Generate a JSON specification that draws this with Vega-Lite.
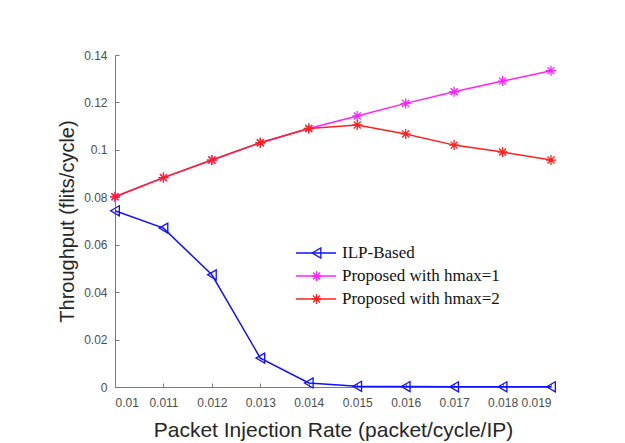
{
  "$schema": "https://vega.github.io/schema/vega-lite/v6.json",
  "autosize": {"type": "none"},
  "width": 436,
  "height": 332,
  "padding": {"left": 115, "top": 55, "right": 74, "bottom": 56},
  "background": "white",
  "config": {"view": {"stroke": null}},
  "data": {"values": [
    {"x": 0.010, "y": 0.0743, "series": "ILP-Based", "marker": "m1"},
    {"x": 0.011, "y": 0.0670, "series": "ILP-Based", "marker": "m1"},
    {"x": 0.012, "y": 0.0473, "series": "ILP-Based", "marker": "m1"},
    {"x": 0.013, "y": 0.0122, "series": "ILP-Based", "marker": "m1"},
    {"x": 0.014, "y": 0.0017, "series": "ILP-Based", "marker": "m1"},
    {"x": 0.015, "y": 0.0003, "series": "ILP-Based", "marker": "m1"},
    {"x": 0.016, "y": 0.0002, "series": "ILP-Based", "marker": "m1"},
    {"x": 0.017, "y": 0.0001, "series": "ILP-Based", "marker": "m1"},
    {"x": 0.018, "y": 0.0001, "series": "ILP-Based", "marker": "m1"},
    {"x": 0.019, "y": 0.0001, "series": "ILP-Based", "marker": "m1"},
    {"x": 0.010, "y": 0.0802, "series": "Proposed with hmax=1", "marker": "m2"},
    {"x": 0.011, "y": 0.0883, "series": "Proposed with hmax=1", "marker": "m2"},
    {"x": 0.012, "y": 0.0957, "series": "Proposed with hmax=1", "marker": "m2"},
    {"x": 0.013, "y": 0.1030, "series": "Proposed with hmax=1", "marker": "m2"},
    {"x": 0.014, "y": 0.1090, "series": "Proposed with hmax=1", "marker": "m2"},
    {"x": 0.015, "y": 0.1143, "series": "Proposed with hmax=1", "marker": "m2"},
    {"x": 0.016, "y": 0.1196, "series": "Proposed with hmax=1", "marker": "m2"},
    {"x": 0.017, "y": 0.1245, "series": "Proposed with hmax=1", "marker": "m2"},
    {"x": 0.018, "y": 0.1290, "series": "Proposed with hmax=1", "marker": "m2"},
    {"x": 0.019, "y": 0.1334, "series": "Proposed with hmax=1", "marker": "m2"},
    {"x": 0.010, "y": 0.0802, "series": "Proposed with hmax=2", "marker": "m3"},
    {"x": 0.011, "y": 0.0883, "series": "Proposed with hmax=2", "marker": "m3"},
    {"x": 0.012, "y": 0.0957, "series": "Proposed with hmax=2", "marker": "m3"},
    {"x": 0.013, "y": 0.1030, "series": "Proposed with hmax=2", "marker": "m3"},
    {"x": 0.014, "y": 0.1090, "series": "Proposed with hmax=2", "marker": "m3"},
    {"x": 0.015, "y": 0.1105, "series": "Proposed with hmax=2", "marker": "m3"},
    {"x": 0.016, "y": 0.1067, "series": "Proposed with hmax=2", "marker": "m3"},
    {"x": 0.017, "y": 0.1020, "series": "Proposed with hmax=2", "marker": "m3"},
    {"x": 0.018, "y": 0.0991, "series": "Proposed with hmax=2", "marker": "m3"},
    {"x": 0.019, "y": 0.0957, "series": "Proposed with hmax=2", "marker": "m3"}
  ]},
  "encoding": {
    "x": {
      "field": "x", "type": "quantitative",
      "scale": {"domain": [0.01, 0.019], "nice": false, "zero": false},
      "axis": {
        "title": "Packet Injection Rate (packet/cycle/IP)",
        "values": [0.01, 0.011, 0.012, 0.013, 0.014, 0.015, 0.016, 0.017, 0.018, 0.019],
        "format": "~f",
        "grid": false,
        "domainColor": "#7a7a7a", "tickColor": "#7a7a7a", "tickSize": -4,
        "labelFont": "Liberation Sans", "labelFontSize": 12, "labelColor": "#4d4d4d",
        "labelPadding": 14,
        "titleFont": "Liberation Sans", "titleFontSize": 21, "titleFontWeight": "normal",
        "titleColor": "#262626", "titlePadding": 11
      }
    },
    "y": {
      "field": "y", "type": "quantitative",
      "scale": {"domain": [0, 0.14], "nice": false},
      "axis": {
        "title": "Throughput (flits/cycle)",
        "values": [0, 0.02, 0.04, 0.06, 0.08, 0.1, 0.12, 0.14],
        "format": "~f",
        "grid": false,
        "domainColor": "#7a7a7a", "tickColor": "#7a7a7a", "tickSize": -4,
        "labelFont": "Liberation Sans", "labelFontSize": 12, "labelColor": "#4d4d4d",
        "labelPadding": 12,
        "titleFont": "Liberation Sans", "titleFontSize": 20, "titleFontWeight": "normal",
        "titleColor": "#262626", "titlePadding": 6
      }
    }
  },
  "layer": [
    {
      "mark": {"type": "line", "strokeWidth": 1.5},
      "encoding": {
        "color": {
          "field": "series", "type": "nominal",
          "scale": {"domain": ["ILP-Based", "Proposed with hmax=1", "Proposed with hmax=2"], "range": ["#1010ff", "#ff22ff", "#ff2020"]},
          "legend": {
            "title": null, "orient": "none", "legendX": 180, "legendY": 188,
            "symbolType": "stroke", "symbolSize": 1600, "symbolStrokeWidth": 1.5,
            "labelFont": "Liberation Serif", "labelFontSize": 17, "labelColor": "#111111",
            "labelOffset": 5, "rowPadding": 3, "clipHeight": 20, "padding": 0, "labelLimit": 400
          }
        }
      }
    },
    {
      "mark": {"type": "point", "filled": false, "strokeWidth": 1.3, "opacity": 1},
      "encoding": {
        "stroke": {
          "field": "marker", "type": "nominal",
          "scale": {"domain": ["m1", "m2", "m3"], "range": ["#1010ff", "#ff22ff", "#ff2020"]},
          "legend": {
            "title": null, "orient": "none", "legendX": 193, "legendY": 188,
            "symbolSize": 100, "symbolStrokeWidth": 1.3, "symbolFillColor": "transparent",
            "labelExpr": "''", "labelFontSize": 17,
            "rowPadding": 3, "clipHeight": 20, "padding": 0
          }
        },
        "shape": {
          "field": "marker", "type": "nominal",
          "scale": {"domain": ["m1", "m2", "m3"], "range": ["triangle-left", "M-1,0H1M0,-1V1M-0.7,-0.7L0.7,0.7M-0.7,0.7L0.7,-0.7", "M-1,0H1M0,-1V1M-0.7,-0.7L0.7,0.7M-0.7,0.7L0.7,-0.7"]},
          "legend": {
            "title": null, "orient": "none", "legendX": 193, "legendY": 188,
            "symbolSize": 100, "symbolStrokeWidth": 1.3, "symbolFillColor": "transparent",
            "labelExpr": "''", "labelFontSize": 17,
            "rowPadding": 3, "clipHeight": 20, "padding": 0
          }
        },
        "size": {"value": 100}
      }
    }
  ]
}
